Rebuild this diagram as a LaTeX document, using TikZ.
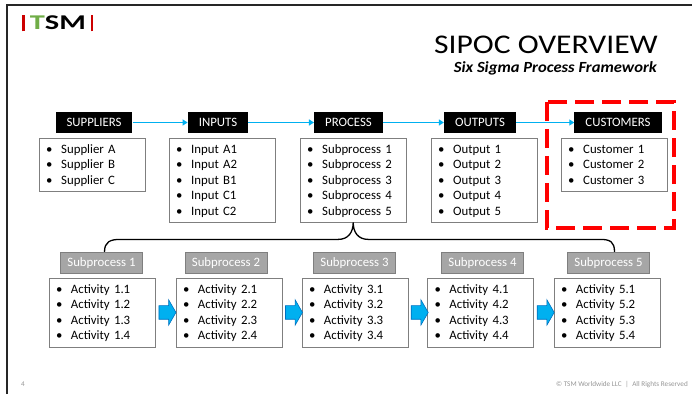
\documentclass[tikz,border=0pt]{standalone}
\usepackage{fontspec}
\setmainfont{Carlito}
\usetikzlibrary{arrows.meta,shapes.arrows,calc}
\definecolor{tsmred}{RGB}{204,0,0}
\definecolor{tsmgreen}{RGB}{112,173,71}
\definecolor{flowblue}{RGB}{0,176,240}
\definecolor{flowedge}{RGB}{0,112,192}
\definecolor{boxgray}{RGB}{127,127,127}
\definecolor{subgray}{RGB}{166,166,166}
\definecolor{notegray}{RGB}{150,150,150}
\newcommand\bul{\rule[-3.75pt]{0pt}{15.5pt}\makebox[15pt][l]{\textbullet}}
\newcommand\listfont{\fontsize{12.8}{15.5}\selectfont}
\tikzset{
  head/.style={fill=black,text=white,minimum height=21pt,inner xsep=11pt,inner ysep=0pt,
    text height=8.3pt,text depth=0pt,font=\listfont},
  subhead/.style={fill=subgray,draw=boxgray,text=white,minimum height=21pt,minimum width=82pt,
    inner sep=0pt,text height=8.3pt,text depth=0pt,font=\listfont},
  list/.style={draw=boxgray,fill=white,anchor=north west,text width=92pt,align=left,
    inner xsep=7pt,inner ysep=3.25pt,font=\listfont},
  flow/.style={flowblue,line width=1.6pt,-{Triangle[length=5pt,width=6pt]}},
  blockarrow/.style={single arrow,fill=flowblue,draw=flowedge,line width=0.6pt,minimum height=17pt,
    inner xsep=0pt,inner ysep=6.5pt,text height=0pt,text depth=0pt,
    single arrow head extend=6pt,single arrow tip angle=120},
  focus/.style={draw=red,line width=4.5pt,dash pattern=on 19pt off 8pt}
}
\begin{document}
\begin{tikzpicture}[x=1pt,y=1pt]
            \useasboundingbox (0,0) rectangle (692,394);
            \draw[line width=1.8pt,black!85] (7,0) -- (7,389) -- (692,389);
            \node[font=\bfseries\fontsize{21}{21}\selectfont,anchor=base west,inner sep=0pt] (logo) at (22,364)
            {\textcolor{tsmred}{\rule[-1.5pt]{2.6pt}{16.5pt}}\hspace{5pt}\scalebox{1.45}[1]{\textcolor{tsmgreen}{T}SM}\hspace{5pt}\textcolor{tsmred}{\rule[-1.5pt]{2.6pt}{16.5pt}}};
            \node[anchor=base east,inner sep=0pt,font=\fontsize{27}{27}\selectfont] (title) at (658,340)
            {\scalebox{1.17}[1]{SIPOC OVERVIEW}};
            \node[anchor=base east,inner sep=0pt,font=\bfseries\itshape\fontsize{15.5}{15.5}\selectfont] (subtitle) at (657,321)
            {\scalebox{1.07}[1]{Six Sigma Process Framework}};
            \node[head] (sup) at (94,271.5) {SUPPLIERS};
            \node[head] (inp) at (218,271.5) {INPUTS};
            \node[head] (pro) at (348.5,271.5) {PROCESS};
            \node[head] (out) at (480,271.5) {OUTPUTS};
            \node[head] (cus) at (618,271.5) {CUSTOMERS};
            \draw[flow] (sup) -- (inp);
            \draw[flow] (inp) -- (pro);
            \draw[flow] (pro) -- (out);
            \draw[flow] (out) -- (cus);
            \node[list] (supL) at (39,256) {\bul Supplier A\\ \bul Supplier B\\ \bul Supplier C};
            \node[list] (inpL) at (169,256) {\bul Input A1\\ \bul Input A2\\ \bul Input B1\\ \bul Input C1\\ \bul Input C2};
            \node[list] (proL) at (300,256) {\bul Subprocess 1\\ \bul Subprocess 2\\ \bul Subprocess 3\\ \bul Subprocess 4\\ \bul Subprocess 5};
            \node[list] (outL) at (431,256) {\bul Output 1\\ \bul Output 2\\ \bul Output 3\\ \bul Output 4\\ \bul Output 5};
            \node[list] (cusL) at (561,256) {\bul Customer 1\\ \bul Customer 2\\ \bul Customer 3};
            \draw[focus] (547,292) rectangle (674,166);
            \foreach \i/\x/\y in {1/101.5/102,2/226/229,3/354.5/355,4/482.5/480.5,5/608.5/607}{
              \node[subhead] (sp\i) at (\x,131.5) {Subprocess \i};
              \node[list,anchor=north] (act\i) at (\y,116) {\bul Activity \i.1\\ \bul Activity \i.2\\ \bul Activity \i.3\\ \bul Activity \i.4};
            }
            \foreach \i/\j in {1/2,2/3,3/4,4/5}
              \node[blockarrow] (ar\i) at ($(act\i.east)!0.5!(act\j.west)$) {};
            \draw[line width=1.3pt] ([xshift=3pt]sp1.north) .. controls +(0,10) and +(-10,0) .. ($(proL.south)+(-233,-17)$)
            -- ($(proL.south)+(-15,-17)$) .. controls +(10,0) and +(0,-10) .. (proL.south)
            .. controls +(0,-10) and +(-10,0) .. ($(proL.south)+(15,-17)$)
            -- ($(proL.south)+(247,-17)$) .. controls +(10,0) and +(0,10) .. ([xshift=6pt]sp5.north);
            \node[font=\fontsize{7.2}{8}\selectfont,text=notegray,anchor=base west,inner sep=0pt] (page) at (21,7.5) {4};
            \node[font=\fontsize{7.2}{8}\selectfont,text=notegray,anchor=base east,inner sep=0pt] (copy) at (688,8)
            {\textcopyright{} TSM Worldwide LLC\enspace|\enspace All Rights Reserved};
\end{tikzpicture}
\end{document}
